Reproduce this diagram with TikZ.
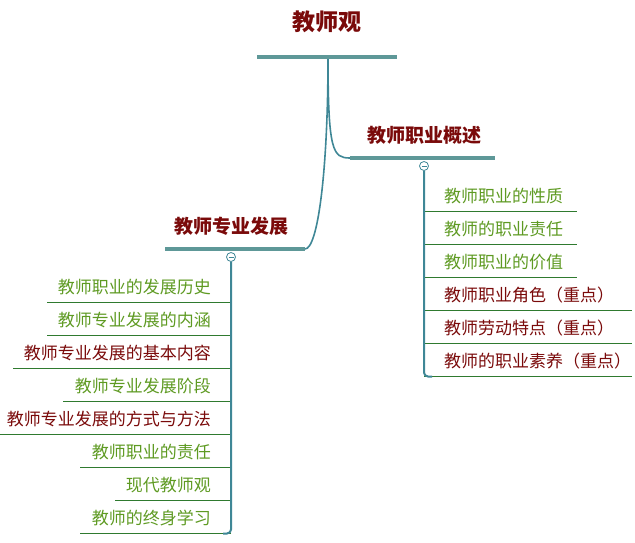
\documentclass[tikz,border=0pt]{standalone}
\usepackage{fontspec}
\setmainfont{Noto Sans CJK SC}
\usetikzlibrary{calc}
\definecolor{darkred}{HTML}{7A0A0A}
\definecolor{leafgreen}{HTML}{5E9A22}
\definecolor{spineteal}{HTML}{3F8796}
\definecolor{barteal}{HTML}{5E9898}
\definecolor{ulgreen}{HTML}{2F7A2F}

\begin{document}
\begin{tikzpicture}[x=1pt,y=-1pt,
    topic/.style={text=darkred,font=\fontsize{19}{21}\selectfont\bfseries,inner sep=0pt},
    leafg/.style={text=leafgreen,font=\fontsize{17}{19}\selectfont,inner sep=0pt},
    leafr/.style={text=darkred,font=\fontsize{17}{19}\selectfont,inner sep=0pt},
    bar/.style={barteal,line width=3.5pt},
    stem/.style={spineteal,line width=1.6pt},
    spine/.style={spineteal,line width=2pt},
    uline/.style={ulgreen,line width=1.2pt},
    fold/.style={circle,draw=spineteal,fill=white,line width=0.8pt,inner sep=0pt,minimum size=9pt,
      path picture={\draw[spineteal,line width=0.7pt]
        ($(path picture bounding box.center)+(-2.5pt,0)$) -- ($(path picture bounding box.center)+(2.5pt,0)$);}}]
  \useasboundingbox (0,0) rectangle (635,543);

  % root
  \node[topic,font=\fontsize{23}{25}\selectfont\bfseries] (root) at (327,22) {教师观};
  \coordinate (rootL) at (257,57);
  \coordinate (rootR) at (397,57);
  \coordinate (rootC) at (328,57);

  % right branch
  \node[topic] (gaishu) at (424,135) {教师职业概述};
  \coordinate (gaishuL) at (350,158);
  \coordinate (gaishuR) at (495,158);
  \node[fold] (foldR) at (424,166) {};

  % left branch
  \node[topic] (fazhan) at (231,226) {教师专业发展};
  \coordinate (fazhanL) at (165,249);
  \coordinate (fazhanR) at (305,249);
  \node[fold] (foldL) at (231,257) {};

  \draw[stem] (rootC) .. controls (328,152) and (333,158) .. (gaishuL);
  \draw[stem] (rootC) .. controls (328,170) and (318,249) .. (fazhanR);
  \draw[bar] (rootL) -- (rootR);
  \draw[bar] (gaishuL) -- (gaishuR);
  \draw[bar] (fazhanL) -- (fazhanR);

  % right items
  \node[leafg,anchor=west] (r1) at (444,196) {教师职业的性质};
  \node[leafg,anchor=west] (r2) at (444,229) {教师的职业责任};
  \node[leafg,anchor=west] (r3) at (444,262) {教师职业的价值};
  \node[leafr,anchor=west] (r4) at (444,295) {教师职业角色（重点）};
  \node[leafr,anchor=west] (r5) at (444,328) {教师劳动特点（重点）};
  \node[leafr,anchor=west] (r6) at (444,361) {教师的职业素养（重点）};
  \coordinate (r1s) at (424,211.5); \coordinate (r1e) at (577,211.5);
  \coordinate (r2s) at (424,244.5); \coordinate (r2e) at (577,244.5);
  \coordinate (r3s) at (424,277.5); \coordinate (r3e) at (577,277.5);
  \coordinate (r4s) at (424,310.5); \coordinate (r4e) at (632,310.5);
  \coordinate (r5s) at (424,343.5); \coordinate (r5e) at (632,343.5);
  \coordinate (r6s) at (424,376.5); \coordinate (r6e) at (632,376.5);
  \draw[uline] (r1s) -- (r1e);
  \draw[uline] (r2s) -- (r2e);
  \draw[uline] (r3s) -- (r3e);
  \draw[uline] (r4s) -- (r4e);
  \draw[uline] (r5s) -- (r5e);
  \draw[uline] (r6s) -- (r6e);
  \draw[spine,rounded corners=4pt] (foldR.south) -- (r6s) -- ($(r6s)+(8,0)$);

  % left items
  \node[leafg,anchor=east] (l1) at (211,287) {教师职业的发展历史};
  \node[leafg,anchor=east] (l2) at (211,320) {教师专业发展的内涵};
  \node[leafr,anchor=east] (l3) at (211,353) {教师专业发展的基本内容};
  \node[leafg,anchor=east] (l4) at (211,386) {教师专业发展阶段};
  \node[leafr,anchor=east] (l5) at (211,419) {教师专业发展的方式与方法};
  \node[leafg,anchor=east] (l6) at (211,452) {教师职业的责任};
  \node[leafg,anchor=east] (l7) at (211,485) {现代教师观};
  \node[leafg,anchor=east] (l8) at (211,518) {教师的终身学习};
  \coordinate (l1s) at (231,302.5); \coordinate (l1e) at (47,302.5);
  \coordinate (l2s) at (231,335.5); \coordinate (l2e) at (47,335.5);
  \coordinate (l3s) at (231,368.5); \coordinate (l3e) at (13,368.5);
  \coordinate (l4s) at (231,401.5); \coordinate (l4e) at (63,401.5);
  \coordinate (l5s) at (231,434.5); \coordinate (l5e) at (0,434.5);
  \coordinate (l6s) at (231,467.5); \coordinate (l6e) at (80,467.5);
  \coordinate (l7s) at (231,500.5); \coordinate (l7e) at (115,500.5);
  \coordinate (l8s) at (231,533.5); \coordinate (l8e) at (80,533.5);
  \draw[uline] (l1s) -- (l1e);
  \draw[uline] (l2s) -- (l2e);
  \draw[uline] (l3s) -- (l3e);
  \draw[uline] (l4s) -- (l4e);
  \draw[uline] (l5s) -- (l5e);
  \draw[uline] (l6s) -- (l6e);
  \draw[uline] (l7s) -- (l7e);
  \draw[uline] (l8s) -- (l8e);
  \draw[spine,rounded corners=4pt] (foldL.south) -- (l8s) -- ($(l8s)+(-8,0)$);
\end{tikzpicture}
\end{document}
